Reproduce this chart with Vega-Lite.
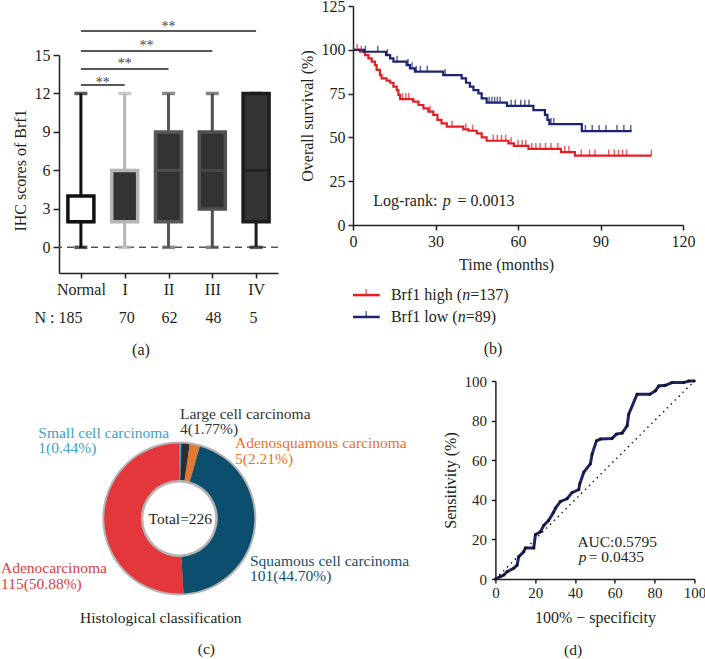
{
  "$schema": "https://vega.github.io/schema/vega-lite/v6.json",
  "background": "white",
  "autosize": {"type": "none"},
  "padding": {"left": 59, "top": 6, "right": 646, "bottom": 653},
  "config": {
    "view": {"stroke": null},
    "font": "Liberation Serif",
    "axis": {
      "labelFont": "Liberation Serif", "titleFont": "Liberation Serif",
      "labelFontSize": 16, "titleFontSize": 16, "titleFontWeight": "normal",
      "labelColor": "#231f20", "titleColor": "#231f20",
      "domainColor": "#231f20", "tickColor": "#231f20",
      "domainWidth": 1.5, "tickWidth": 1.5, "tickSize": 5, "labelPadding": 3,
      "grid": false, "labelFlush": false, "labelOverlap": false
    },
    "text": {"font": "Liberation Serif", "fontSize": 16, "color": "#231f20", "baseline": "middle"}
  },
  "datasets": {
    "boxes": [
      {"g": 1, "lo": 0, "q1": 2, "md": 2, "q3": 4, "hi": 12},
      {"g": 2, "lo": 0, "q1": 2, "md": 6, "q3": 6, "hi": 12},
      {"g": 3, "lo": 0, "q1": 2, "md": 6, "q3": 9, "hi": 12},
      {"g": 4, "lo": 0, "q1": 3, "md": 6, "q3": 9, "hi": 12},
      {"g": 5, "lo": 0, "q1": 2, "md": 6, "q3": 12, "hi": 12}
    ],
    "sig": [
      {"a": 1, "b": 2, "y": 12.66, "sx": 1.5, "sy": 13.05},
      {"a": 1, "b": 3, "y": 13.91, "sx": 2.0, "sy": 14.53},
      {"a": 1, "b": 4, "y": 15.31, "sx": 2.5, "sy": 15.91},
      {"a": 1, "b": 5, "y": 16.87, "sx": 3.0, "sy": 17.42}
    ],
    "atext": [
      {"t": "N : 185", "x": 0.489, "y": -5.51},
      {"t": "70", "x": 2.046, "y": -5.51},
      {"t": "62", "x": 3.023, "y": -5.51},
      {"t": "48", "x": 4.027, "y": -5.51},
      {"t": "5", "x": 4.94, "y": -5.51},
      {"t": "(a)", "x": 2.372, "y": -8.01}
    ],
    "km": [
      {"g": "h", "t": 0, "s": 100}, {"g": "h", "t": 2.5, "s": 98.9}, {"g": "h", "t": 4.4, "s": 97.0},
      {"g": "h", "t": 5.6, "s": 95.1}, {"g": "h", "t": 6.8, "s": 93.2}, {"g": "h", "t": 8.0, "s": 91.3},
      {"g": "h", "t": 8.6, "s": 88.5}, {"g": "h", "t": 9.8, "s": 85.6}, {"g": "h", "t": 10.4, "s": 83.7},
      {"g": "h", "t": 12.2, "s": 82.4}, {"g": "h", "t": 13.5, "s": 81.2}, {"g": "h", "t": 14.7, "s": 79.0},
      {"g": "h", "t": 15.9, "s": 77.0}, {"g": "h", "t": 16.5, "s": 74.2}, {"g": "h", "t": 17.1, "s": 71.9},
      {"g": "h", "t": 21.9, "s": 70.4}, {"g": "h", "t": 23.8, "s": 68.5}, {"g": "h", "t": 25.6, "s": 66.6},
      {"g": "h", "t": 27.4, "s": 64.7}, {"g": "h", "t": 29.2, "s": 62.8}, {"g": "h", "t": 30.7, "s": 60.0},
      {"g": "h", "t": 32.2, "s": 58.0}, {"g": "h", "t": 34.1, "s": 56.1}, {"g": "h", "t": 40.1, "s": 54.6},
      {"g": "h", "t": 42.0, "s": 53.8}, {"g": "h", "t": 45.0, "s": 52.3}, {"g": "h", "t": 46.8, "s": 50.0},
      {"g": "h", "t": 48.6, "s": 48.1}, {"g": "h", "t": 56.5, "s": 46.6}, {"g": "h", "t": 58.5, "s": 45.2},
      {"g": "h", "t": 63.8, "s": 43.4}, {"g": "h", "t": 75.6, "s": 41.6}, {"g": "h", "t": 80.7, "s": 39.6},
      {"g": "h", "t": 108.5, "s": 39.6},
      {"g": "l", "t": 0, "s": 100}, {"g": "l", "t": 4.0, "s": 98.9}, {"g": "l", "t": 12.0, "s": 97.0},
      {"g": "l", "t": 13.5, "s": 95.1}, {"g": "l", "t": 14.7, "s": 93.2}, {"g": "l", "t": 19.5, "s": 91.3},
      {"g": "l", "t": 20.7, "s": 89.4}, {"g": "l", "t": 22.5, "s": 87.5}, {"g": "l", "t": 32.8, "s": 85.6},
      {"g": "l", "t": 39.5, "s": 83.7}, {"g": "l", "t": 41.1, "s": 81.2}, {"g": "l", "t": 42.5, "s": 79.0},
      {"g": "l", "t": 43.8, "s": 77.0}, {"g": "l", "t": 45.6, "s": 75.1}, {"g": "l", "t": 46.8, "s": 72.3},
      {"g": "l", "t": 48.6, "s": 69.8}, {"g": "l", "t": 56.0, "s": 68.0}, {"g": "l", "t": 65.6, "s": 65.6},
      {"g": "l", "t": 69.8, "s": 62.8}, {"g": "l", "t": 70.7, "s": 60.0}, {"g": "l", "t": 71.4, "s": 57.6},
      {"g": "l", "t": 83.2, "s": 53.6}, {"g": "l", "t": 101.3, "s": 53.6}
    ],
    "cens": [
      {"g": "h", "t": 1.5, "s": 100}, {"g": "h", "t": 3.0, "s": 98.9}, {"g": "h", "t": 18.0, "s": 71.9},
      {"g": "h", "t": 19.2, "s": 71.9}, {"g": "h", "t": 20.3, "s": 71.9}, {"g": "h", "t": 28.0, "s": 64.7},
      {"g": "h", "t": 36.0, "s": 56.1}, {"g": "h", "t": 41.0, "s": 54.6}, {"g": "h", "t": 43.5, "s": 53.8},
      {"g": "h", "t": 51.0, "s": 48.1}, {"g": "h", "t": 52.5, "s": 48.1}, {"g": "h", "t": 54.0, "s": 48.1},
      {"g": "h", "t": 55.5, "s": 48.1}, {"g": "h", "t": 57.5, "s": 46.6}, {"g": "h", "t": 60.0, "s": 45.2},
      {"g": "h", "t": 61.5, "s": 45.2}, {"g": "h", "t": 62.8, "s": 45.2}, {"g": "h", "t": 65.0, "s": 43.4},
      {"g": "h", "t": 66.5, "s": 43.4}, {"g": "h", "t": 68.0, "s": 43.4}, {"g": "h", "t": 70.0, "s": 43.4},
      {"g": "h", "t": 72.0, "s": 43.4}, {"g": "h", "t": 74.5, "s": 43.4}, {"g": "h", "t": 77.0, "s": 41.6},
      {"g": "h", "t": 78.5, "s": 41.6}, {"g": "h", "t": 83.0, "s": 39.6}, {"g": "h", "t": 86.0, "s": 39.6},
      {"g": "h", "t": 88.0, "s": 39.6}, {"g": "h", "t": 93.0, "s": 39.6}, {"g": "h", "t": 95.0, "s": 39.6},
      {"g": "h", "t": 96.5, "s": 39.6}, {"g": "h", "t": 98.0, "s": 39.6}, {"g": "h", "t": 99.5, "s": 39.6},
      {"g": "h", "t": 108.5, "s": 39.6},
      {"g": "l", "t": 4.5, "s": 98.9}, {"g": "l", "t": 9.0, "s": 98.9}, {"g": "l", "t": 12.5, "s": 97.0},
      {"g": "l", "t": 16.0, "s": 93.2}, {"g": "l", "t": 20.0, "s": 91.3}, {"g": "l", "t": 21.5, "s": 89.4},
      {"g": "l", "t": 23.0, "s": 87.5}, {"g": "l", "t": 24.5, "s": 87.5}, {"g": "l", "t": 27.0, "s": 87.5},
      {"g": "l", "t": 33.5, "s": 85.6}, {"g": "l", "t": 49.5, "s": 69.8}, {"g": "l", "t": 50.5, "s": 69.8},
      {"g": "l", "t": 51.5, "s": 69.8}, {"g": "l", "t": 52.5, "s": 69.8}, {"g": "l", "t": 53.5, "s": 69.8},
      {"g": "l", "t": 57.5, "s": 68.0}, {"g": "l", "t": 59.0, "s": 68.0}, {"g": "l", "t": 61.0, "s": 68.0},
      {"g": "l", "t": 62.5, "s": 68.0}, {"g": "l", "t": 64.0, "s": 68.0}, {"g": "l", "t": 72.0, "s": 57.6},
      {"g": "l", "t": 73.0, "s": 57.6}, {"g": "l", "t": 84.5, "s": 53.6}, {"g": "l", "t": 87.0, "s": 53.6},
      {"g": "l", "t": 89.5, "s": 53.6}, {"g": "l", "t": 92.0, "s": 53.6}, {"g": "l", "t": 96.0, "s": 53.6},
      {"g": "l", "t": 98.5, "s": 53.6}, {"g": "l", "t": 101.0, "s": 53.6}
    ],
    "leg": [
      {"g": "h", "x0": 0, "x1": 9.7, "xm": 4.8, "y": -40},
      {"g": "l", "x0": 0, "x1": 9.7, "xm": 4.8, "y": -52.5}
    ],
    "btext": [
      {"t": "Log-rank:", "x": 7.4, "y": 13.7},
      {"t": "= 0.0013", "x": 38.0, "y": 13.7},
      {"t": "Brf1 high (", "x": 13.8, "y": -40},
      {"t": "=137)", "x": 42.6, "y": -40},
      {"t": "Brf1 low (", "x": 13.8, "y": -52.5},
      {"t": "=89)", "x": 41.0, "y": -52.5},
      {"t": "(b)", "x": 47.5, "y": -70.8}
    ],
    "bital": [
      {"t": "p", "x": 32.6, "y": 13.7},
      {"t": "n", "x": 39.7, "y": -40},
      {"t": "n", "x": 38.1, "y": -52.5}
    ],
    "donut": [
      {"k": "s", "n": 1, "o": 1},
      {"k": "l", "n": 4, "o": 2},
      {"k": "a", "n": 5, "o": 3},
      {"k": "q", "n": 101, "o": 4},
      {"k": "d", "n": 115, "o": 5}
    ],
    "ctext": [
      {"t": "Small cell carcinoma", "ux": -1.831, "uy": 1.114, "k": "s"},
      {"t": "1(0.44%)", "ux": -1.831, "uy": 0.910, "k": "s"},
      {"t": "Large cell carcinoma", "ux": 0.009, "uy": 1.362, "k": "l"},
      {"t": "4(1.77%)", "ux": 0.009, "uy": 1.158, "k": "l"},
      {"t": "Adenosquamous carcinoma", "ux": 0.723, "uy": 0.982, "k": "a"},
      {"t": "5(2.21%)", "ux": 0.723, "uy": 0.778, "k": "a"},
      {"t": "Squamous cell carcinoma", "ux": 0.918, "uy": -0.548, "k": "q"},
      {"t": "101(44.70%)", "ux": 0.918, "uy": -0.752, "k": "q"},
      {"t": "Adenocarcinoma", "ux": -2.316, "uy": -0.643, "k": "d"},
      {"t": "115(50.88%)", "ux": -2.316, "uy": -0.847, "k": "d"},
      {"t": "Total=226", "ux": -0.40, "uy": 0, "k": "k"},
      {"t": "Histological classification", "ux": -1.29, "uy": -1.296, "k": "k"},
      {"t": "(c)", "ux": 0.24, "uy": -1.70, "k": "k"}
    ],
    "roc": [
      {"fpr": 0, "tpr": 0}, {"fpr": 2.5, "tpr": 1.2}, {"fpr": 4.2, "tpr": 2.0}, {"fpr": 5.9, "tpr": 3.7},
      {"fpr": 9.2, "tpr": 5.4}, {"fpr": 10.9, "tpr": 7.0}, {"fpr": 11.7, "tpr": 11.2}, {"fpr": 14.2, "tpr": 13.7},
      {"fpr": 15.1, "tpr": 15.7}, {"fpr": 19.3, "tpr": 15.7}, {"fpr": 20.1, "tpr": 22.4}, {"fpr": 22.6, "tpr": 23.8},
      {"fpr": 24.3, "tpr": 27.1}, {"fpr": 26.8, "tpr": 29.6}, {"fpr": 29.3, "tpr": 33.8}, {"fpr": 30.2, "tpr": 35.8},
      {"fpr": 32.7, "tpr": 39.2}, {"fpr": 36.0, "tpr": 40.5}, {"fpr": 38.5, "tpr": 43.6}, {"fpr": 41.9, "tpr": 45.2},
      {"fpr": 42.4, "tpr": 48.1}, {"fpr": 44.4, "tpr": 53.9}, {"fpr": 47.7, "tpr": 58.1}, {"fpr": 48.6, "tpr": 63.1},
      {"fpr": 50.8, "tpr": 69.8}, {"fpr": 52.8, "tpr": 70.7}, {"fpr": 58.6, "tpr": 71.0}, {"fpr": 60.8, "tpr": 73.2},
      {"fpr": 63.7, "tpr": 73.7}, {"fpr": 66.2, "tpr": 77.4}, {"fpr": 67.0, "tpr": 83.2}, {"fpr": 71.2, "tpr": 93.3},
      {"fpr": 77.6, "tpr": 93.3}, {"fpr": 80.4, "tpr": 95.0}, {"fpr": 82.1, "tpr": 97.5}, {"fpr": 85.4, "tpr": 97.8},
      {"fpr": 88.8, "tpr": 99.2}, {"fpr": 94.6, "tpr": 99.2}, {"fpr": 97.2, "tpr": 100}, {"fpr": 100, "tpr": 100}
    ],
    "dtext": [
      {"t": "AUC:0.5795", "x": 41.2, "y": 18.7},
      {"t": "= 0.0435", "x": 46.9, "y": 10.9},
      {"t": "(d)", "x": 34.5, "y": -36.0}
    ]
  },
  "bounds": "flush",
  "spacing": 375,
  "resolve": {"scale": {"color": "independent", "fill": "independent", "stroke": "independent"}},
  "vconcat": [
    {
      "bounds": "flush",
      "spacing": 75,
      "resolve": {"scale": {"color": "independent", "fill": "independent", "stroke": "independent"}},
      "hconcat": [
        {
          "width": 219,
          "height": 267,
          "layer": [
            {
              "data": {"values": [{"z": 0}]},
              "mark": {"type": "rule", "color": "#555555", "strokeDash": [7, 5], "strokeWidth": 1.5},
              "encoding": {
                "y": {"field": "z", "type": "quantitative",
                  "scale": {"domain": [-2, 15], "range": [267, 49], "nice": false, "zero": false},
                  "axis": {"values": [0, 3, 6, 9, 12, 15], "tickCount": 10, "title": "IHC scores of Brf1", "titlePadding": 6, "tickSize": 6, "titleY": 164}}
              }
            },
            {
              "data": {"name": "boxes"},
              "mark": {"type": "rule", "strokeWidth": 3},
              "encoding": {
                "x": {"field": "g", "type": "quantitative", "scale": {"domain": [0.5, 5.5], "nice": false, "zero": false, "padding": 0},
                  "axis": {"values": [1, 2, 3, 4, 5], "tickCount": 10, "title": null,
                    "labelExpr": "datum.value == 1 ? 'Normal' : datum.value == 2 ? 'I' : datum.value == 3 ? 'II' : datum.value == 4 ? 'III' : 'IV'"}},
                "y": {"field": "lo", "type": "quantitative", "scale": {"domain": [-2, 15], "range": [267, 49], "nice": false, "zero": false}},
                "y2": {"field": "q1"},
                "color": {"field": "g", "type": "nominal", "scale": {"domain": [1, 2, 3, 4, 5], "range": ["#111111", "#b5b5b5", "#58585c", "#505054", "#1d1d1f"]}, "legend": null}
              }
            },
            {
              "data": {"name": "boxes"},
              "mark": {"type": "rule", "strokeWidth": 3},
              "encoding": {
                "x": {"field": "g", "type": "quantitative", "scale": {"domain": [0.5, 5.5], "nice": false, "zero": false, "padding": 0}},
                "y": {"field": "q3", "type": "quantitative", "scale": {"domain": [-2, 15], "range": [267, 49], "nice": false, "zero": false}},
                "y2": {"field": "hi"},
                "color": {"field": "g", "type": "nominal", "legend": null}
              }
            },
            {
              "data": {"name": "boxes"},
              "mark": {"type": "tick", "orient": "horizontal", "size": 13, "thickness": 3.5},
              "encoding": {
                "x": {"field": "g", "type": "quantitative", "scale": {"domain": [0.5, 5.5], "nice": false, "zero": false, "padding": 0}},
                "y": {"field": "lo", "type": "quantitative", "scale": {"domain": [-2, 15], "range": [267, 49], "nice": false, "zero": false}},
                "color": {"field": "g", "type": "nominal", "legend": null}
              }
            },
            {
              "data": {"name": "boxes"},
              "mark": {"type": "tick", "orient": "horizontal", "size": 13, "thickness": 3.5},
              "encoding": {
                "x": {"field": "g", "type": "quantitative", "scale": {"domain": [0.5, 5.5], "nice": false, "zero": false, "padding": 0}},
                "y": {"field": "hi", "type": "quantitative", "scale": {"domain": [-2, 15], "range": [267, 49], "nice": false, "zero": false}},
                "color": {"field": "g", "type": "nominal", "legend": null}
              }
            },
            {
              "data": {"name": "boxes"},
              "mark": {"type": "bar", "size": 26, "strokeWidth": 3.5},
              "encoding": {
                "x": {"field": "g", "type": "quantitative", "scale": {"domain": [0.5, 5.5], "nice": false, "zero": false, "padding": 0}},
                "y": {"field": "q1", "type": "quantitative", "scale": {"domain": [-2, 15], "range": [267, 49], "nice": false, "zero": false}},
                "y2": {"field": "q3"},
                "fill": {"field": "g", "type": "nominal", "scale": {"domain": [1, 2, 3, 4, 5], "range": ["#ffffff", "#333336", "#333336", "#333336", "#333336"]}, "legend": null},
                "stroke": {"field": "g", "type": "nominal", "scale": {"domain": [1, 2, 3, 4, 5], "range": ["#111111", "#b5b5b5", "#58585c", "#505054", "#1d1d1f"]}, "legend": null}
              }
            },
            {
              "data": {"name": "boxes"},
              "mark": {"type": "tick", "orient": "horizontal", "size": 26, "thickness": 3},
              "encoding": {
                "x": {"field": "g", "type": "quantitative", "scale": {"domain": [0.5, 5.5], "nice": false, "zero": false, "padding": 0}},
                "y": {"field": "md", "type": "quantitative", "scale": {"domain": [-2, 15], "range": [267, 49], "nice": false, "zero": false}},
                "color": {"field": "g", "type": "nominal", "legend": null}
              }
            },
            {
              "data": {"name": "sig"},
              "mark": {"type": "rule", "color": "#231f20", "strokeWidth": 1.5},
              "encoding": {
                "x": {"field": "a", "type": "quantitative", "scale": {"domain": [0.5, 5.5], "nice": false, "zero": false, "padding": 0}},
                "x2": {"field": "b"},
                "y": {"field": "y", "type": "quantitative", "scale": {"domain": [-2, 15], "range": [267, 49], "nice": false, "zero": false}}
              }
            },
            {
              "data": {"name": "sig"},
              "mark": {"type": "text", "text": "**", "fontSize": 14, "color": "#444444", "align": "center", "dy": 3},
              "encoding": {
                "x": {"field": "sx", "type": "quantitative", "scale": {"domain": [0.5, 5.5], "nice": false, "zero": false, "padding": 0}},
                "y": {"field": "sy", "type": "quantitative", "scale": {"domain": [-2, 15], "range": [267, 49], "nice": false, "zero": false}}
              }
            },
            {
              "data": {"name": "atext"},
              "mark": {"type": "text", "align": "center"},
              "encoding": {
                "x": {"field": "x", "type": "quantitative", "scale": {"domain": [0.5, 5.5], "nice": false, "zero": false, "padding": 0}},
                "y": {"field": "y", "type": "quantitative", "scale": {"domain": [-2, 15], "range": [267, 49], "nice": false, "zero": false}},
                "text": {"field": "t"}
              }
            }
          ]
        },
        {
          "width": 330,
          "height": 219,
          "layer": [
            {
              "data": {"name": "km"},
              "mark": {"type": "line", "interpolate": "step-after", "strokeWidth": 2.2},
              "encoding": {
                "x": {"field": "t", "type": "quantitative", "scale": {"domain": [0, 120], "nice": false, "zero": false},
                  "axis": {"values": [0, 30, 60, 90, 120], "tickCount": 10, "title": "Time (months)", "titlePadding": 7, "titleX": 153}},
                "y": {"field": "s", "type": "quantitative", "scale": {"domain": [0, 125], "nice": false, "zero": false},
                  "axis": {"values": [0, 25, 50, 75, 100, 125], "tickCount": 10, "title": "Overall survival (%)", "titlePadding": 6}},
                "color": {"field": "g", "type": "nominal", "scale": {"domain": ["h", "l"], "range": ["#e31e24", "#1b2470"]}, "legend": null}
              }
            },
            {
              "data": {"name": "cens"},
              "mark": {"type": "tick", "orient": "vertical", "size": 6, "thickness": 1.5, "yOffset": -3},
              "encoding": {
                "x": {"field": "t", "type": "quantitative", "scale": {"domain": [0, 120], "nice": false, "zero": false}},
                "y": {"field": "s", "type": "quantitative", "scale": {"domain": [0, 125], "nice": false, "zero": false}},
                "color": {"field": "g", "type": "nominal", "legend": null}
              }
            },
            {
              "data": {"name": "leg"},
              "mark": {"type": "rule", "strokeWidth": 2.5},
              "encoding": {
                "x": {"field": "x0", "type": "quantitative", "scale": {"domain": [0, 120], "nice": false, "zero": false}},
                "x2": {"field": "x1"},
                "y": {"field": "y", "type": "quantitative", "scale": {"domain": [0, 125], "nice": false, "zero": false}},
                "color": {"field": "g", "type": "nominal", "legend": null}
              }
            },
            {
              "data": {"name": "leg"},
              "mark": {"type": "tick", "orient": "vertical", "size": 6, "thickness": 1.5, "yOffset": -3},
              "encoding": {
                "x": {"field": "xm", "type": "quantitative", "scale": {"domain": [0, 120], "nice": false, "zero": false}},
                "y": {"field": "y", "type": "quantitative", "scale": {"domain": [0, 125], "nice": false, "zero": false}},
                "color": {"field": "g", "type": "nominal", "legend": null}
              }
            },
            {
              "data": {"name": "btext"},
              "mark": {"type": "text", "align": "left"},
              "encoding": {
                "x": {"field": "x", "type": "quantitative", "scale": {"domain": [0, 120], "nice": false, "zero": false}},
                "y": {"field": "y", "type": "quantitative", "scale": {"domain": [0, 125], "nice": false, "zero": false}},
                "text": {"field": "t"}
              }
            },
            {
              "data": {"name": "bital"},
              "mark": {"type": "text", "align": "left", "fontStyle": "italic"},
              "encoding": {
                "x": {"field": "x", "type": "quantitative", "scale": {"domain": [0, 120], "nice": false, "zero": false}},
                "y": {"field": "y", "type": "quantitative", "scale": {"domain": [0, 125], "nice": false, "zero": false}},
                "text": {"field": "t"}
              }
            }
          ]
        }
      ]
    },
    {
      "bounds": "flush",
      "spacing": 195.4,
      "resolve": {"scale": {"color": "independent", "fill": "independent", "stroke": "independent"}},
      "hconcat": [
        {
          "width": 240.6,
          "height": 275,
          "resolve": {"scale": {"theta": "independent"}},
          "layer": [
            {
              "data": {"values": [{"v": 1}]},
              "mark": {"type": "arc", "innerRadius": 36, "outerRadius": 77, "color": "#b4b4b4"},
              "encoding": {"theta": {"field": "v", "type": "quantitative"}}
            },
            {
              "data": {"name": "donut"},
              "mark": {"type": "arc", "innerRadius": 38.5, "outerRadius": 75},
              "encoding": {
                "theta": {"field": "n", "type": "quantitative", "stack": true},
                "order": {"field": "o", "type": "quantitative"},
                "color": {"field": "k", "type": "nominal", "scale": {"domain": ["s", "l", "a", "q", "d"], "range": ["#3ba6d2", "#2d2d31", "#e07a33", "#0c4e6d", "#e3373c"]}, "legend": null}
              }
            },
            {
              "data": {"name": "ctext"},
              "mark": {"type": "text", "align": "left", "fontSize": 15.5},
              "encoding": {
                "x": {"field": "ux", "type": "quantitative", "scale": {"domain": [-1.5623, 1.5623], "nice": false, "zero": false}, "axis": null},
                "y": {"field": "uy", "type": "quantitative", "scale": {"domain": [-1.7857, 1.7857], "nice": false, "zero": false}, "axis": null},
                "text": {"field": "t"},
                "fill": {"field": "k", "type": "nominal", "scale": {"domain": ["s", "l", "a", "q", "d", "k"], "range": ["#3ea2c8", "#333333", "#e8722c", "#144f70", "#e23a3f", "#231f20"]}, "legend": null}
              }
            }
          ]
        },
        {
          "width": 199,
          "height": 198,
          "layer": [
            {
              "data": {"name": "roc"},
              "mark": {"type": "line", "color": "#1c2566", "strokeWidth": 3},
              "encoding": {
                "x": {"field": "fpr", "type": "quantitative", "scale": {"domain": [0, 100], "nice": false, "zero": false},
                  "axis": {"values": [0, 20, 40, 60, 80, 100], "tickCount": 10, "title": "100% − specificity", "tickSize": 4, "labelFontSize": 15, "labelPadding": 2, "titlePadding": 9}},
                "y": {"field": "tpr", "type": "quantitative", "scale": {"domain": [0, 100], "nice": false, "zero": false},
                  "axis": {"values": [0, 20, 40, 60, 80, 100], "tickCount": 10, "title": "Sensitivity (%)", "tickSize": 4, "labelFontSize": 15, "labelPadding": 5, "titlePadding": 5}}
              }
            },
            {
              "data": {"values": [{"a": 0, "b": 0, "c": 100, "d": 100}]},
              "mark": {"type": "rule", "color": "#231f20", "strokeDash": [1.5, 4], "strokeWidth": 1.5},
              "encoding": {
                "x": {"field": "a", "type": "quantitative", "scale": {"domain": [0, 100], "nice": false, "zero": false}},
                "y": {"field": "b", "type": "quantitative", "scale": {"domain": [0, 100], "nice": false, "zero": false}},
                "x2": {"field": "c"},
                "y2": {"field": "d"}
              }
            },
            {
              "data": {"name": "roc"},
              "mark": {"type": "point", "shape": "square", "size": 6, "color": "#111111", "filled": true, "opacity": 1},
              "encoding": {
                "x": {"field": "fpr", "type": "quantitative", "scale": {"domain": [0, 100], "nice": false, "zero": false}},
                "y": {"field": "tpr", "type": "quantitative", "scale": {"domain": [0, 100], "nice": false, "zero": false}}
              }
            },
            {
              "data": {"name": "dtext"},
              "mark": {"type": "text", "align": "left", "fontSize": 15.5},
              "encoding": {
                "x": {"field": "x", "type": "quantitative", "scale": {"domain": [0, 100], "nice": false, "zero": false}},
                "y": {"field": "y", "type": "quantitative", "scale": {"domain": [0, 100], "nice": false, "zero": false}},
                "text": {"field": "t"}
              }
            },
            {
              "data": {"values": [{"t": "p", "x": 41.9, "y": 10.9}]},
              "mark": {"type": "text", "align": "left", "fontSize": 15.5, "fontStyle": "italic"},
              "encoding": {
                "x": {"field": "x", "type": "quantitative", "scale": {"domain": [0, 100], "nice": false, "zero": false}},
                "y": {"field": "y", "type": "quantitative", "scale": {"domain": [0, 100], "nice": false, "zero": false}},
                "text": {"field": "t"}
              }
            }
          ]
        }
      ]
    }
  ]
}
